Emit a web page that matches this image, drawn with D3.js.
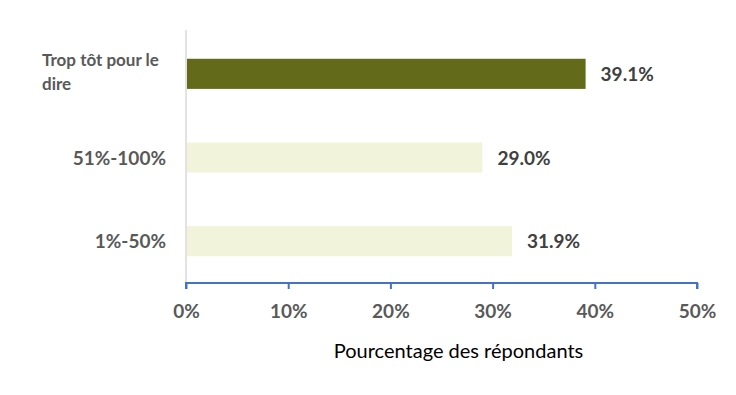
<!DOCTYPE html>
<html>
<head>
<meta charset="utf-8">
<script src="https://cdn.jsdelivr.net/npm/d3@7"></script>
<style>
  body { margin: 0; background: #fff; }
  svg { font-family: Lato, "Open Sans", sans-serif; }
</style>
</head>
<body>
<div id="chart"></div>
<script>
var categories = ["Trop tôt pour le dire", "51%-100%", "1%-50%"],
    values = [39.1, 29.0, 31.9],
    barColors = ["#636b1a", "#f1f4db", "#f1f4db"],
    tickValues = [0, 10, 20, 30, 40, 50],
    axisTitle = "Pourcentage des répondants";

var width = 736, height = 395,
    plotLeft = 186, plotRight = 697, plotTop = 32, plotBottom = 283;

var svg = d3.select("#chart").append("svg")
    .attr("width", width)
    .attr("height", height);

var x = d3.scaleLinear().domain([0, 50]).range([plotLeft, plotRight]);
var y = d3.scaleBand().domain(categories).range([plotTop, plotBottom])
    .paddingInner(0.64).paddingOuter(0.32);

// vertical category axis line
svg.append("line")
    .attr("x1", plotLeft).attr("x2", plotLeft)
    .attr("y1", 30).attr("y2", plotBottom)
    .style("stroke", "#d9d9d9").style("stroke-width", 1.5);

// bars
svg.selectAll("rect.bar")
    .data(values)
    .enter().append("rect")
    .attr("class", "bar")
    .attr("x", x(0) + 1)
    .attr("y", (d, i) => y(categories[i]))
    .attr("width", d => x(d) - x(0) - 1)
    .attr("height", y.bandwidth())
    .style("fill", (d, i) => barColors[i]);

// value labels
svg.selectAll("text.val")
    .data(values)
    .enter().append("text")
    .attr("class", "val")
    .attr("x", d => x(d) + 15)
    .attr("y", (d, i) => y(categories[i]) + y.bandwidth() / 2)
    .attr("dy", "0.38em")
    .style("font-size", "19px").style("font-weight", "bold")
    .style("fill", "#404040")
    .text(d => d.toFixed(1) + "%");

// category labels
categories.forEach(function(c, i) {
  var cy = y(c) + y.bandwidth() / 2;
  if (i === 0) {
    var t = svg.append("text")
        .attr("x", 42).attr("y", cy)
        .style("font-size", "17px").style("font-weight", "bold")
        .style("fill", "#595959");
    t.append("tspan").attr("x", 42).attr("dy", "-0.45em").text("Trop tôt pour le");
    t.append("tspan").attr("x", 42).attr("dy", "1.4em").text("dire");
  } else {
    svg.append("text")
        .attr("x", 166).attr("y", cy)
        .attr("dy", "0.38em")
        .attr("text-anchor", "end")
        .style("font-size", "19px").style("font-weight", "bold")
        .style("fill", "#595959")
        .text(c);
  }
});

// x axis
var xAxis = svg.append("g")
    .attr("transform", "translate(0," + plotBottom + ")")
    .call(d3.axisBottom(x).tickValues(tickValues)
      .tickFormat(d => d + "%").tickSize(6).tickPadding(16));

xAxis.select(".domain").style("stroke", "#4472c4").style("stroke-width", 2)
    .attr("d", "M" + plotLeft + ",6V0H" + plotRight + "V6");
xAxis.selectAll(".tick line").style("stroke", "#4472c4").style("stroke-width", 2);
xAxis.selectAll(".tick text")
    .style("font-family", "Lato, 'Open Sans', sans-serif")
    .style("font-size", "19px").style("font-weight", "bold")
    .style("fill", "#595959");

// axis title
svg.append("text")
    .attr("x", (plotLeft + plotRight) / 2 + 17)
    .attr("y", 358)
    .attr("text-anchor", "middle")
    .style("font-size", "20px")
    .style("fill", "#000")
    .text(axisTitle);
</script>
</body>
</html>
